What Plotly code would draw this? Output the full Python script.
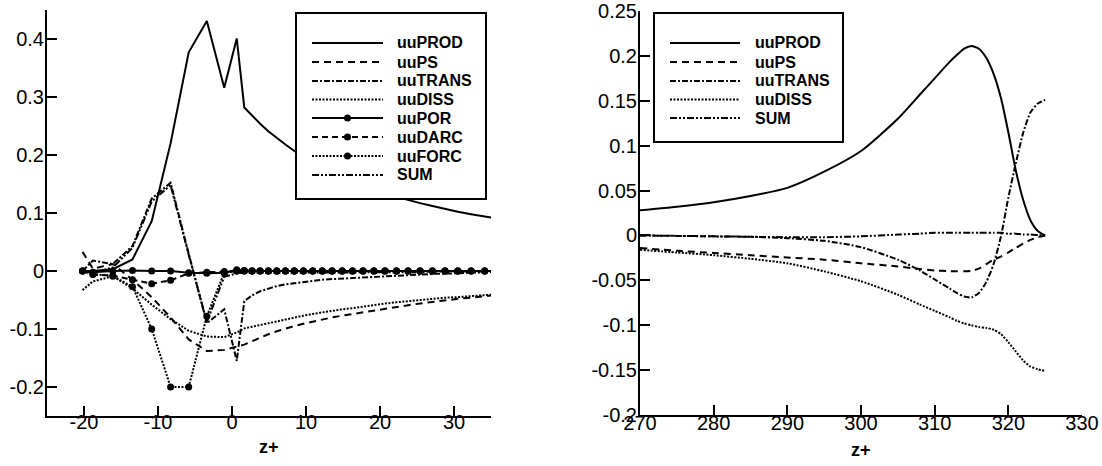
import plotly.graph_objects as go

W, H = 1102, 466

# ---------------- left panel: porous bed + interface region ----------------
z_left = [-20.2, -18.8, -16.1, -13.45, -10.85, -8.3, -5.85, -3.4, -1.05,
          0.64, 1.66, 2.72, 3.80, 4.91, 6.05, 7.22, 8.42, 9.65, 10.91, 12.2, 13.53,
          14.89, 16.28, 17.71, 19.18, 20.68, 22.22, 23.8, 25.42, 27.08, 28.78, 30.52,
          32.31, 34.14, 36.02]

uuPROD_L = [0.0, 0.0, 0.003, 0.02, 0.086, 0.22, 0.377, 0.431, 0.316,
            0.401, 0.282, 0.268, 0.254, 0.241, 0.229, 0.218, 0.207, 0.197, 0.188, 0.179,
            0.171, 0.163, 0.155, 0.148, 0.141, 0.134, 0.128, 0.122, 0.117, 0.112, 0.107,
            0.102, 0.098, 0.094, 0.090]
uuPS_L = [0.033, 0.004, 0.012, -0.015, -0.045, -0.08, -0.118, -0.138, -0.136,
          -0.131, -0.127, -0.121, -0.115, -0.109, -0.104, -0.099, -0.095, -0.091, -0.087,
          -0.083, -0.080, -0.077, -0.074, -0.071, -0.068, -0.065, -0.062, -0.059, -0.056,
          -0.053, -0.051, -0.048, -0.046, -0.043, -0.041]
uuTRANS_L = [0.0, 0.018, 0.012, 0.043, 0.125, 0.152, 0.03, -0.09, -0.066,
             -0.155, -0.052, -0.042, -0.035, -0.030, -0.026, -0.023, -0.021, -0.019, -0.017,
             -0.015, -0.014, -0.013, -0.012, -0.011, -0.010, -0.009, -0.008, -0.007, -0.006,
             -0.005, -0.0045, -0.004, -0.003, -0.002, -0.0015]
uuDISS_L = [-0.033, -0.018, -0.009, -0.03, -0.058, -0.083, -0.103, -0.113, -0.114,
            -0.106, -0.099, -0.096, -0.093, -0.090, -0.087, -0.083, -0.080, -0.077, -0.074,
            -0.071, -0.069, -0.066, -0.064, -0.061, -0.059, -0.056, -0.054, -0.052, -0.050,
            -0.048, -0.046, -0.045, -0.043, -0.041, -0.040]
uuPOR_L = [0.0, -0.002, 0.0, 0.001, 0.0, 0.0, -0.003, -0.004, -0.003,
           0.002, 0.001, 0.0, 0.0, 0.0, 0.0, 0.0, 0.0, 0.0, 0.0, 0.0, 0.0, 0.0, 0.0, 0.0,
           0.0, 0.0, 0.0, 0.0, 0.0, 0.0, 0.0, 0.0, 0.0, 0.0, 0.0]
uuDARC_L = [0.0, -0.006, -0.008, -0.015, -0.022, -0.016, -0.004, -0.002, -0.001,
            0.0, 0.0, 0.0, 0.0, 0.0, 0.0, 0.0, 0.0, 0.0, 0.0, 0.0, 0.0, 0.0, 0.0, 0.0,
            0.0, 0.0, 0.0, 0.0, 0.0, 0.0, 0.0, 0.0, 0.0, 0.0, 0.0]
uuFORC_L = [0.0, -0.005, -0.009, -0.027, -0.1, -0.2, -0.2, -0.078, -0.003,
            0.0, 0.0, 0.0, 0.0, 0.0, 0.0, 0.0, 0.0, 0.0, 0.0, 0.0, 0.0, 0.0, 0.0, 0.0,
            0.0, 0.0, 0.0, 0.0, 0.0, 0.0, 0.0, 0.0, 0.0, 0.0, 0.0]
SUM_L = [0.0, -0.003, 0.006, 0.04, 0.12, 0.148, 0.028, -0.088, -0.01,
         -0.004, -0.003, -0.003, -0.002, -0.002, -0.002, -0.002, -0.002, -0.002, -0.002,
         -0.002, -0.002, -0.002, -0.002, -0.002, -0.002, -0.002, -0.002, -0.002, -0.002,
         -0.001, -0.001, -0.001, -0.001, -0.001, -0.001]

# ---------------- right panel: outer channel region ----------------
z_right = [270, 275, 280, 285, 290, 295, 300, 305, 308, 310, 312, 313, 314, 315,
           316, 317, 318, 319, 320, 321, 322, 323, 324, 325]

uuPROD_R = [0.028, 0.032, 0.037, 0.044, 0.053, 0.071, 0.094, 0.130, 0.157, 0.175,
            0.193, 0.201, 0.208, 0.211, 0.208, 0.198, 0.180, 0.153, 0.115, 0.073,
            0.040, 0.017, 0.005, 0.0]
uuPS_R = [-0.014, -0.017, -0.0195, -0.022, -0.0245, -0.027, -0.031, -0.0345, -0.0375,
          -0.039, -0.0398, -0.040, -0.040, -0.0395, -0.037, -0.032, -0.027, -0.0235,
          -0.019, -0.014, -0.009, -0.005, -0.002, 0.0]
uuTRANS_R = [0.0, -0.0005, -0.001, -0.0015, -0.003, -0.006, -0.013, -0.027, -0.039,
             -0.049, -0.059, -0.064, -0.068, -0.069, -0.064, -0.052, -0.032, -0.001,
             0.042, 0.080, 0.114, 0.137, 0.147, 0.151]
uuDISS_R = [-0.016, -0.019, -0.022, -0.026, -0.031, -0.040, -0.051, -0.066, -0.077,
            -0.084, -0.091, -0.095, -0.098, -0.100, -0.102, -0.103, -0.105, -0.110,
            -0.119, -0.129, -0.139, -0.146, -0.149, -0.151]
SUM_R = [0.0, -0.0005, -0.001, -0.0015, -0.002, -0.002, -0.001, 0.001, 0.002, 0.003,
         0.003, 0.003, 0.003, 0.003, 0.003, 0.003, 0.003, 0.003, 0.002, 0.002, 0.001,
         0.001, 0.0005, 0.0]

# tick labels
left_xticks = [-20, -10, 0, 10, 20, 30]
left_xtext = ["-20", "-10", "0", "10", "20", "30"]
left_yticks = [-0.2, -0.1, 0, 0.1, 0.2, 0.3, 0.4]
left_ytext = ["-0.2", "-0.1", "0", "0.1", "0.2", "0.3", "0.4"]
right_xticks = [270, 280, 290, 300, 310, 320, 330]
right_xtext = ["270", "280", "290", "300", "310", "320", "330"]
right_yticks = [-0.2, -0.15, -0.1, -0.05, 0, 0.05, 0.1, 0.15, 0.2, 0.25]
right_ytext = ["-0.2", "-0.15", "-0.1", "-0.05", "0", "0.05", "0.1", "0.15", "0.2", "0.25"]

# line styles for each budget term
STYLE = {
    "uuPROD": dict(dash="solid", marker=False),
    "uuPS": dict(dash="7px,5px", marker=False),
    "uuTRANS": dict(dash="6px,2px,2px,2px", marker=False),
    "uuDISS": dict(dash="2px,1.5px", marker=False),
    "uuPOR": dict(dash="solid", marker=True),
    "uuDARC": dict(dash="6px,4px", marker=True),
    "uuFORC": dict(dash="2px,1.5px", marker=True),
    "SUM": dict(dash="7px,2px,2px,2px,2px,2px", marker=False),
}
LW = 2
FONT = "Liberation Sans, Arial, sans-serif"

fig = go.Figure()

left_series = [("uuPROD", uuPROD_L), ("uuPS", uuPS_L), ("uuTRANS", uuTRANS_L),
               ("uuDISS", uuDISS_L), ("uuPOR", uuPOR_L), ("uuDARC", uuDARC_L),
               ("uuFORC", uuFORC_L), ("SUM", SUM_L)]
right_series = [("uuPROD", uuPROD_R), ("uuPS", uuPS_R), ("uuTRANS", uuTRANS_R),
                ("uuDISS", uuDISS_R), ("SUM", SUM_R)]

for name, vals in left_series:
    st = STYLE[name]
    fig.add_trace(go.Scatter(
        x=z_left, y=vals, name=name, xaxis="x", yaxis="y",
        mode="lines+markers" if st["marker"] else "lines",
        line=dict(color="black", width=LW, dash=st["dash"]),
        marker=dict(color="black", size=7, symbol="circle"),
        showlegend=False))

for name, vals in right_series:
    st = STYLE[name]
    fig.add_trace(go.Scatter(
        x=z_right, y=vals, name=name, xaxis="x2", yaxis="y2",
        mode="lines",
        line=dict(color="black", width=LW, dash=st["dash"], shape="spline", smoothing=0.6),
        showlegend=False))


def px(x):
    return x / W


def py(y):
    return 1 - y / H


axis_common = dict(showline=True, linewidth=2, linecolor="black", ticks="inside",
                   ticklen=10, tickwidth=2, tickcolor="black", showgrid=False,
                   zeroline=False, automargin=False,
                   tickfont=dict(family=FONT, size=20, color="black"),
                   tickmode="array")
y_common = dict(axis_common, ticklabelstandoff=-3)

fig.update_layout(
    width=W, height=H,
    margin=dict(l=0, r=0, t=0, b=0, pad=0, autoexpand=False),
    paper_bgcolor="white", plot_bgcolor="white",
    xaxis=dict(domain=[px(47), px(491)], range=[-25, 35], anchor="y",
               tickvals=left_xticks, ticktext=left_xtext, ticklabelstandoff=-13,
               **axis_common),
    yaxis=dict(domain=[py(416), py(10)], range=[-0.25, 0.45], anchor="x",
               tickvals=left_yticks, ticktext=left_ytext, **y_common),
    xaxis2=dict(domain=[px(640), px(1082)], range=[270, 330], anchor="y2",
                tickvals=right_xticks, ticktext=right_xtext, ticklabelstandoff=-11,
                **axis_common),
    yaxis2=dict(domain=[py(415), py(11)], range=[-0.2, 0.25], anchor="x2",
                tickvals=right_yticks, ticktext=right_ytext, **y_common),
    showlegend=False,
)

shapes = []
annotations = []


def add_legend(box, names, sample, text_x, rows):
    x0, y0, x1, y1 = box
    shapes.append(dict(type="rect", xref="paper", yref="paper",
                       x0=px(x0), x1=px(x1), y0=py(y1), y1=py(y0),
                       line=dict(color="black", width=2), fillcolor="white", layer="above"))
    for name, ry in zip(names, rows):
        st = STYLE[name]
        shapes.append(dict(type="line", xref="paper", yref="paper",
                           x0=px(sample[0]), x1=px(sample[1]), y0=py(ry), y1=py(ry),
                           line=dict(color="black", width=LW, dash=st["dash"]),
                           layer="above"))
        if st["marker"]:
            cx = (sample[0] + sample[1]) / 2
            r = 3.5
            shapes.append(dict(type="circle", xref="paper", yref="paper",
                               x0=px(cx - r), x1=px(cx + r), y0=py(ry + r), y1=py(ry - r),
                               line=dict(color="black", width=0), fillcolor="black",
                               layer="above"))
        annotations.append(dict(text="<b>" + name + "</b>", xref="paper", yref="paper",
                                x=px(text_x), y=py(ry), xanchor="left", yanchor="middle",
                                showarrow=False,
                                font=dict(family=FONT, size=16, color="black")))


add_legend((296, 13, 486, 199), [n for n, _ in left_series], (312, 383), 395,
           [43, 62, 81, 99.5, 118, 137, 156, 175])
add_legend((654, 13, 843, 142), [n for n, _ in right_series], (670, 740), 753,
           [43, 62, 81, 99.5, 118])

# axis titles
annotations.append(dict(text="<b>z+</b>", xref="paper", yref="paper", x=px(269), y=py(447),
                        xanchor="center", yanchor="middle", showarrow=False,
                        font=dict(family=FONT, size=18, color="black")))
annotations.append(dict(text="<b>z+</b>", xref="paper", yref="paper", x=px(861), y=py(450),
                        xanchor="center", yanchor="middle", showarrow=False,
                        font=dict(family=FONT, size=18, color="black")))

fig.update_layout(shapes=shapes, annotations=annotations)

fig.write_html("out.html")
